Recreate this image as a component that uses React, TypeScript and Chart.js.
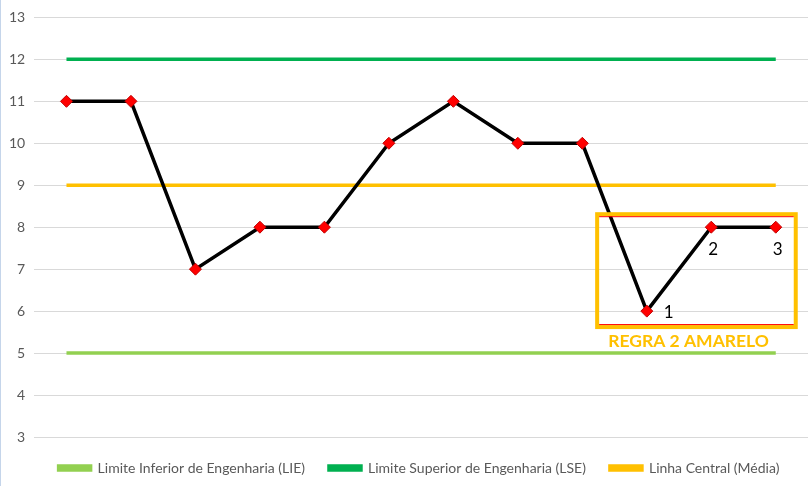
import React, { useEffect, useRef } from "react";
import { Chart, registerables } from "chart.js";

Chart.register(...registerables);

const categories = ["1", "2", "3", "4", "5", "6", "7", "8", "9", "10", "11", "12"];
const values = [11, 11, 7, 8, 8, 10, 11, 10, 10, 6, 8, 8];
const lie = [5, 5, 5, 5, 5, 5, 5, 5, 5, 5, 5, 5];
const lse = [12, 12, 12, 12, 12, 12, 12, 12, 12, 12, 12, 12];
const central = [9, 9, 9, 9, 9, 9, 9, 9, 9, 9, 9, 9];
const seriesNames = [
  "Limite Inferior de Engenharia (LIE)",
  "Limite Superior de Engenharia (LSE)",
  "Linha Central (Média)",
];
// Annotation box in data coordinates (category index / value)
const boxX = [8.23, 11.31];
const boxY = [5.62, 8.31];
const boxText = "REGRA 2 AMARELO";
const pointTags = [
  { index: 9, text: "1", pos: "right" },
  { index: 10, text: "2", pos: "below" },
  { index: 11, text: "3", pos: "below" },
];

const FONT = "Lato, 'Open Sans', sans-serif";

const legendShiftPlugin = {
  id: "legendShift",
  afterLayout(chart: any) {
    if (chart.legend) {
      chart.legend.left += 15;
      chart.legend.right += 15;
    }
  },
};

const annotationPlugin = {
  id: "annot",
  afterDatasetsDraw(chart: any) {
    const { ctx, scales } = chart;
    const x = scales.x;
    const y = scales.y;
    const l = x.getPixelForValue(boxX[0]);
    const r = x.getPixelForValue(boxX[1]);
    const t = y.getPixelForValue(boxY[1]);
    const b = y.getPixelForValue(boxY[0]);
    ctx.save();
    ctx.strokeStyle = "#FFC000";
    ctx.lineWidth = 4;
    ctx.strokeRect(l, t, r - l, b - t);
    ctx.strokeStyle = "#FF0000";
    ctx.lineWidth = 1;
    ctx.beginPath();
    ctx.moveTo(l + 2, t + 2.5);
    ctx.lineTo(r - 2, t + 2.5);
    ctx.moveTo(l + 2, b - 2.5);
    ctx.lineTo(r - 2, b - 2.5);
    ctx.stroke();
    ctx.fillStyle = "#FFC000";
    ctx.font = "bold 17.5px " + FONT;
    ctx.textAlign = "left";
    ctx.textBaseline = "middle";
    ctx.fillText(boxText, l + 11, b + 14);
    ctx.fillStyle = "#000000";
    ctx.font = "17px " + FONT;
    const meta = chart.getDatasetMeta(0);
    for (const tag of pointTags) {
      const el = meta.data[tag.index];
      if (!el) continue;
      if (tag.pos === "right") {
        ctx.textAlign = "left";
        ctx.fillText(tag.text, el.x + 17, el.y + 1);
      } else {
        ctx.textAlign = "center";
        ctx.fillText(tag.text, el.x + 2, el.y + 22);
      }
    }
    ctx.fillStyle = "#C5D5EA";
    ctx.fillRect(0, 0, 1, chart.height);
    ctx.restore();
  },
};

export default function App() {
  const ref = useRef<HTMLCanvasElement>(null);
  useEffect(() => {
    if (!ref.current) return;
    const chart = new Chart(ref.current, {
      type: "line",
      data: {
        labels: categories,
        datasets: [
          {
            label: "Dados",
            data: values,
            borderColor: "#000000",
            borderWidth: 3.5,
            pointStyle: "rectRot",
            pointRadius: 6,
            pointBackgroundColor: "#FF0000",
            pointBorderColor: "#C00000",
            pointBorderWidth: 1,
            tension: 0,
          },
          {
            label: seriesNames[0],
            data: lie,
            borderColor: "#92D050",
            backgroundColor: "#92D050",
            borderWidth: 3.5,
            pointRadius: 0,
          },
          {
            label: seriesNames[1],
            data: lse,
            borderColor: "#00B050",
            backgroundColor: "#00B050",
            borderWidth: 3.5,
            pointRadius: 0,
          },
          {
            label: seriesNames[2],
            data: central,
            borderColor: "#FFC000",
            backgroundColor: "#FFC000",
            borderWidth: 3.5,
            pointRadius: 0,
          },
        ],
      },
      options: {
        animation: false,
        responsive: false,
        layout: { autoPadding: false, padding: { left: 0, right: 2, top: 3, bottom: 1 } },
        plugins: {
          tooltip: { enabled: false },
          legend: {
            position: "bottom",
            labels: {
              filter: (item: any) => item.datasetIndex !== 0,
              boxWidth: 32,
              boxHeight: 4,
              padding: 24,
              color: "#595959",
              font: { family: FONT, size: 14 },
            },
          },
        },
        scales: {
          x: {
            offset: true,
            grid: { display: false, drawTicks: false },
            border: { display: false },
            ticks: { display: false },
          },
          y: {
            min: 3,
            max: 13,
            ticks: {
              stepSize: 1,
              color: "#595959",
              padding: 9,
              font: { family: FONT, size: 14 },
            },
            grid: { color: "#D9D9D9", drawTicks: false },
            border: { display: false },
          },
        },
      },
      plugins: [legendShiftPlugin, annotationPlugin],
    });
    return () => chart.destroy();
  }, []);
  return (
    <div style={{ position: "fixed", left: 0, top: 0, width: 810, height: 486, background: "#fff" }}>
      <canvas ref={ref} width={810} height={486} />
    </div>
  );
}
